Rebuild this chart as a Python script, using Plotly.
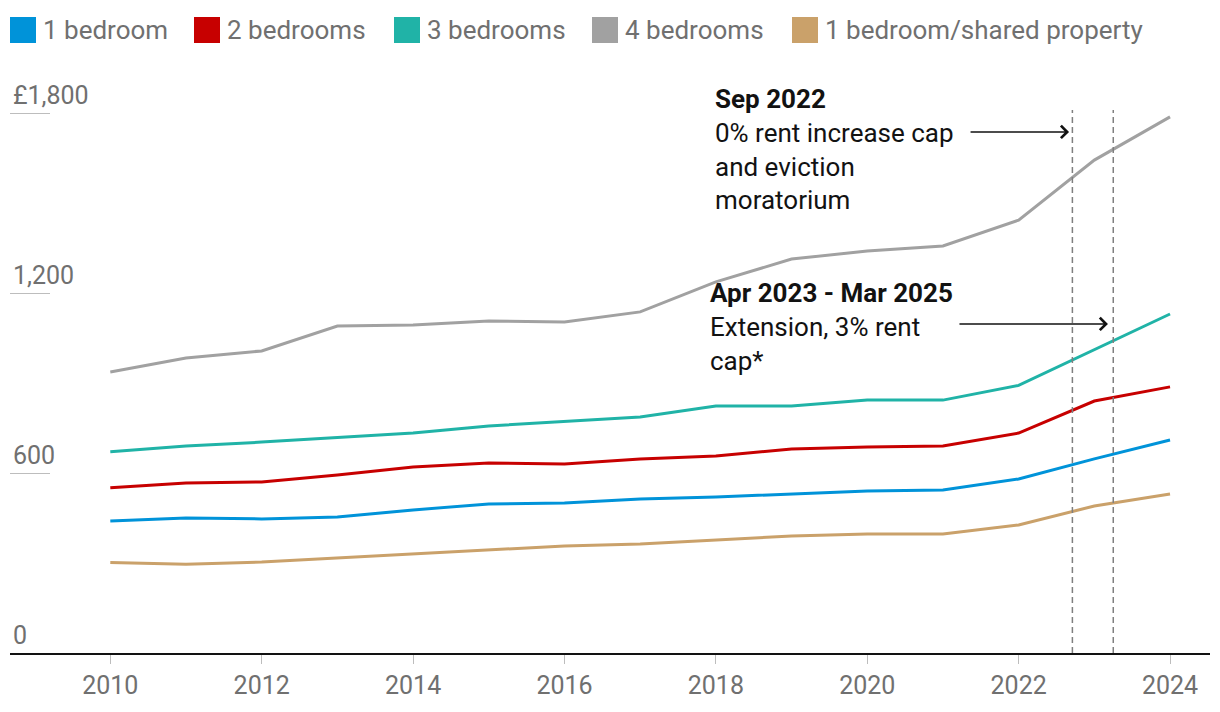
import plotly.graph_objects as go

# ---------------- data ----------------
years = list(range(2010, 2025))

one_bed = [440, 450, 447, 453, 477, 497, 500, 513, 520, 530, 540, 543, 580, 647, 710]
two_bed = [551, 567, 570, 593, 620, 633, 630, 647, 657, 680, 687, 690, 733, 840, 887]
three_bed = [671, 690, 703, 717, 733, 757, 773, 787, 823, 823, 843, 843, 892, 1012, 1130]
four_bed = [937, 983, 1007, 1090, 1093, 1107, 1103, 1137, 1237, 1313, 1340, 1357, 1443, 1643, 1787]
shared = [302, 296, 303, 317, 330, 343, 357, 363, 377, 390, 397, 397, 427, 490, 530]

series_names = ["1 bedroom", "2 bedrooms", "3 bedrooms", "4 bedrooms", "1 bedroom/shared property"]
series_values = [one_bed, two_bed, three_bed, four_bed, shared]
series_colors = ["#0093d9", "#c70000", "#20b3a7", "#a1a1a1", "#caa16a"]

y_tick_vals = [0, 600, 1200, 1800]
y_tick_text = ["0", "600", "1,200", "£1,800"]
x_tick_vals = [2010, 2012, 2014, 2016, 2018, 2020, 2022, 2024]

event_dates = [2022.71, 2023.25]
event_titles = ["Sep 2022", "Apr 2023 - Mar 2025"]
event_texts = ["0% rent increase cap<br>and eviction<br>moratorium", "Extension, 3% rent<br>cap*"]

# ---------------- layout constants ----------------
OFF = 8                      # default body margin of the html page
Y_MAX = 1950                 # headroom so the top tick label stays visible
PX_PER_UNIT = 0.3
PLOT_BOTTOM_PAGE = 653       # page pixel of y=0
PLOT_LEFT_PAGE, PLOT_RIGHT_PAGE = 10, 1210
PW = PLOT_RIGHT_PAGE - PLOT_LEFT_PAGE
PH = round(Y_MAX * PX_PER_UNIT)
ML = PLOT_LEFT_PAGE - OFF
MT = PLOT_BOTTOM_PAGE - PH - OFF
W, H = 1212, 704
MR = W - ML - PW
MB = H - MT - PH
FONT = "Roboto"
GREY_TXT = "#707070"


def px_to_paper_x(px):
    return (px - PLOT_LEFT_PAGE) / PW


def px_to_paper_y(py):
    return (PLOT_BOTTOM_PAGE - py) / PH


fig = go.Figure()

for name, vals, col in zip(series_names, series_values, series_colors):
    fig.add_trace(go.Scatter(
        x=years, y=vals, mode="lines", name=name,
        line=dict(color=col, width=3), showlegend=False, hoverinfo="skip",
    ))

shapes = []
annotations = []

# vertical dashed event lines
for d in event_dates:
    shapes.append(dict(type="line", xref="x", yref="y", x0=d, x1=d, y0=0, y1=1810,
                       line=dict(color="#7f7f7f", width=1.5, dash="6px,4px"), layer="above"))

# manual legend (squares + labels)
legend_square_px = [10, 194, 394, 592, 792]
for name, col, sx in zip(series_names, series_colors, legend_square_px):
    shapes.append(dict(type="rect", xref="paper", yref="paper",
                       x0=px_to_paper_x(sx), x1=px_to_paper_x(sx + 26),
                       y0=px_to_paper_y(43), y1=px_to_paper_y(17),
                       fillcolor=col, line=dict(width=0)))
    annotations.append(dict(xref="paper", yref="paper", x=px_to_paper_x(sx + 31), y=px_to_paper_y(30),
                            xanchor="left", yanchor="middle", showarrow=False, text=name,
                            font=dict(family=FONT, size=26, color=GREY_TXT)))

# event text blocks
block_pos = [(2017.96, 1678), (2017.90, 1087)]
for (bx, by), title, txt in zip(block_pos, event_titles, event_texts):
    annotations.append(dict(xref="x", yref="y", x=bx, y=by, xanchor="left", yanchor="middle",
                            align="left", showarrow=False,
                            text=f"<b>{title}</b><br>{txt}",
                            font=dict(family=FONT, size=26, color="#121212")))

# arrows
arrow_tips = [(2022.666, 1737, -100), (2023.18, 1097, -150)]
for ax_, ay_, off in arrow_tips:
    annotations.append(dict(xref="x", yref="y", x=ax_, y=ay_, ax=off, ay=0, text="",
                            showarrow=True, arrowhead=4, arrowsize=1.6, arrowwidth=1.5,
                            arrowcolor="#121212", standoff=0))

fig.update_layout(
    width=W, height=H,
    margin=dict(l=ML, r=MR, t=MT, b=MB, pad=0),
    paper_bgcolor="white", plot_bgcolor="white",
    font=dict(family=FONT, size=25, color=GREY_TXT),
    showlegend=False,
    shapes=shapes, annotations=annotations,
    xaxis=dict(range=[2008.675, 2024.528], tickvals=x_tick_vals,
               ticks="outside", ticklen=9, tickwidth=1, tickcolor="#bdbdbd",
               showline=True, linecolor="#121212", linewidth=2,
               showgrid=False, zeroline=False, fixedrange=True,
               tickfont=dict(family=FONT, size=25, color=GREY_TXT)),
    yaxis=dict(range=[0, Y_MAX], tickvals=y_tick_vals, ticktext=y_tick_text,
               ticks="inside", ticklen=40, tickwidth=1, tickcolor="#bdbdbd",
               ticklabelposition="inside top",
               showline=False, showgrid=False, zeroline=False, fixedrange=True,
               tickfont=dict(family=FONT, size=25, color=GREY_TXT)),
)

fig.write_html("out.html")
